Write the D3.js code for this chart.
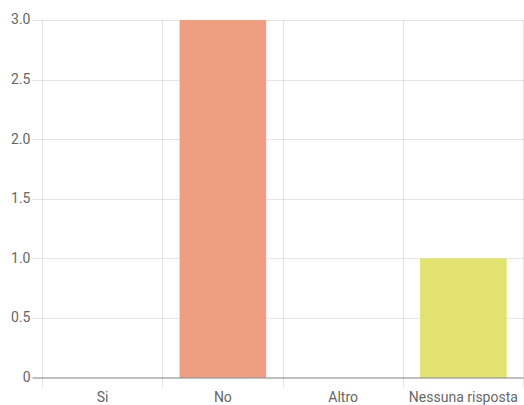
<!DOCTYPE html>
<html><head><meta charset="utf-8">
<script src="https://cdn.jsdelivr.net/npm/d3@7"></script>
<style>body{margin:0;background:#fff}svg{display:block}text{font-family:Roboto,"Liberation Sans",Arial,sans-serif;font-size:14px;fill:#666}</style>
</head><body><svg id="c" width="524" height="405"></svg>
<script>
const categories = ["Si", "No", "Altro", "Nessuna risposta"];
const values = [0, 3, 0, 1];
const colors = ["#ef9e82", "#ef9e82", "#ef9e82", "#e2e270"];
const yTicks = [0, 0.5, 1, 1.5, 2, 2.5, 3];

const svg = d3.select("#c");
const L = 42.5, R = 523.5, T = 20, B = 377.5;
const x = d3.scaleBand().domain(categories).range([L, R]).paddingInner(0).paddingOuter(0);
const y = d3.scaleLinear().domain([0, 3]).range([B, T]);
const fmt = d => d === 0 ? "0" : d3.format(".1f")(d);

// horizontal grid
const g = svg.append("g");
yTicks.forEach(t => {
  g.append("line").attr("x1", L - 10).attr("x2", R).attr("y1", Math.round(y(t)) + 0.5).attr("y2", Math.round(y(t)) + 0.5)
    .attr("stroke", t === 0 ? "rgba(0,0,0,0.25)" : "rgba(0,0,0,0.1)");
  svg.append("text").attr("x", 30.5).attr("y", y(t) - 0.5).attr("dy", "0.35em").attr("text-anchor", "end").text(fmt(t));
});
// vertical grid
const vx = categories.map(c => x(c)).concat([R]);
vx.forEach((px, i) => {
  g.append("line").attr("x1", Math.round(px - 0.5) + 0.5).attr("x2", Math.round(px - 0.5) + 0.5)
    .attr("y1", T).attr("y2", B + 10).attr("stroke", "rgba(0,0,0,0.1)");
});
// bars
const bw = x.bandwidth() * 0.72;
svg.append("g").selectAll("rect").data(categories).join("rect")
  .attr("x", c => x(c) + (x.bandwidth() - bw) / 2)
  .attr("width", bw)
  .attr("y", (c, i) => y(values[i]))
  .attr("height", (c, i) => B - y(values[i]))
  .attr("fill", (c, i) => colors[i]);
// zero line on top
svg.append("line").attr("x1", L - 10).attr("x2", R).attr("y1", B).attr("y2", B).attr("stroke", "rgba(0,0,0,0.25)");
// x labels
categories.forEach(c => {
  svg.append("text").attr("x", x(c) + x.bandwidth() / 2).attr("y", 401.5).attr("text-anchor", "middle").text(c);
});
</script></body></html>
